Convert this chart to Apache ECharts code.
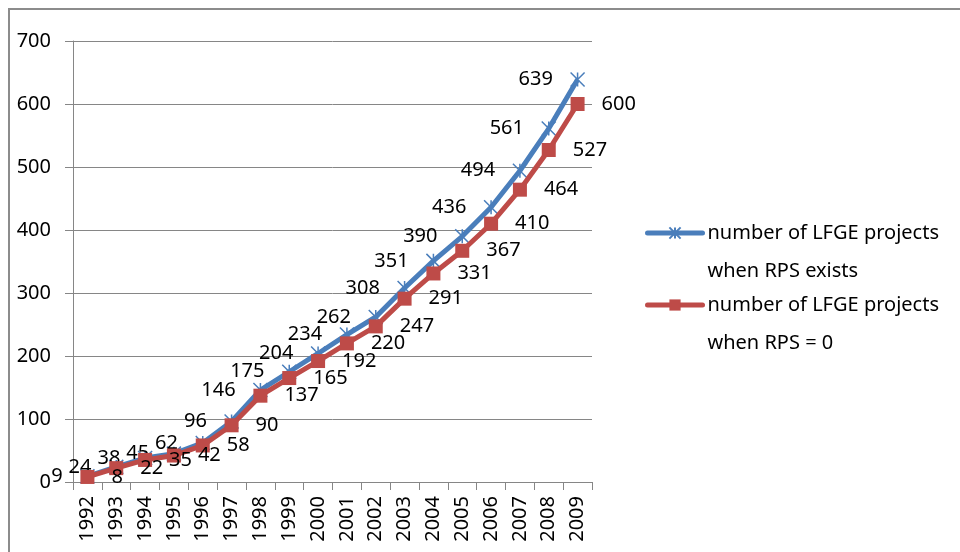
<!DOCTYPE html>
<html>
<head>
<meta charset="utf-8">
<script src="https://cdn.jsdelivr.net/npm/echarts@6/dist/echarts.min.js"></script>
<style>html,body{margin:0;padding:0;background:#fff;}#c{width:960px;height:552px;}</style>
</head>
<body>
<div id="c"></div>
<script>
var years = ['1992','1993','1994','1995','1996','1997','1998','1999','2000','2001','2002','2003','2004','2005','2006','2007','2008','2009'];
var rpsExists = [9,24,38,45,62,96,146,175,204,234,262,308,351,390,436,494,561,639];
var rpsZero = [8,22,35,42,58,90,137,165,192,220,247,291,331,367,410,464,527,600];
var yTicks = [0,100,200,300,400,500,600,700];
var seriesNames = ['number of LFGE projects\nwhen RPS exists', 'number of LFGE projects\nwhen RPS = 0'];

var FONT = 'Noto Sans';
var chart = echarts.init(document.getElementById('c'), null, {renderer:'canvas'});
var legendText = {
  color:'#000', fontFamily:FONT, fontSize:20, lineHeight:38
};
function legendFmt(name){ return ' \n' + name; }
chart.setOption({
  animation:false,
  backgroundColor:'#fff',
  textStyle:{fontFamily:FONT},
  graphic:[
    {type:'polyline', silent:true, shape:{points:[[9,552],[9,9],[960,9]]}, style:{stroke:'#8c8c8c', lineWidth:2, fill:null}}
  ],
  grid:{left:73, right:368, top:41, bottom:70, containLabel:false},
  legend:[
    {data:[seriesNames[0]], left:645, top:176, padding:0, itemWidth:55, itemHeight:14, formatter:legendFmt, textStyle:legendText, lineStyle:{width:5, cap:'round'}},
    {data:[seriesNames[1]], left:645, top:248, padding:0, itemWidth:55, itemHeight:14, formatter:legendFmt, textStyle:legendText, lineStyle:{width:5, cap:'round'}}
  ],
  xAxis:{
    type:'category', data:years, boundaryGap:true,
    axisLine:{lineStyle:{color:'#868686', width:1}},
    axisTick:{show:true, length:8, lineStyle:{color:'#868686'}},
    axisLabel:{rotate:90, margin:14, color:'#000', fontFamily:FONT, fontSize:20}
  },
  yAxis:{
    type:'value', min:yTicks[0], max:yTicks[yTicks.length-1], interval:100,
    axisLine:{show:true, lineStyle:{color:'#868686', width:1}},
    axisTick:{show:true, length:8, lineStyle:{color:'#868686'}},
    axisLabel:{margin:22, color:'#000', fontFamily:FONT, fontSize:20},
    splitLine:{lineStyle:{color:'#868686', width:1}}
  },
  series:[
    {
      name:seriesNames[0], type:'line', data:rpsExists,
      symbol:'path://M0,0L10,10M10,0L0,10M5,0L5,10', symbolSize:14,
      lineStyle:{color:'#4A7EBB', width:5},
      itemStyle:{color:'#4A7EBB', borderColor:'#4A7EBB', borderWidth:1.5},
      label:{show:true, position:'left', distance:17, color:'#000', fontFamily:FONT, fontSize:20},
      z:3
    },
    {
      name:seriesNames[1], type:'line', data:rpsZero,
      symbol:'rect', symbolSize:14,
      lineStyle:{color:'#BE4B48', width:5},
      itemStyle:{color:'#BE4B48', borderColor:'#BE4B48', borderWidth:0},
      label:{show:true, position:'right', distance:17, color:'#000', fontFamily:FONT, fontSize:20},
      z:4
    }
  ]
});
</script>
</body>
</html>
